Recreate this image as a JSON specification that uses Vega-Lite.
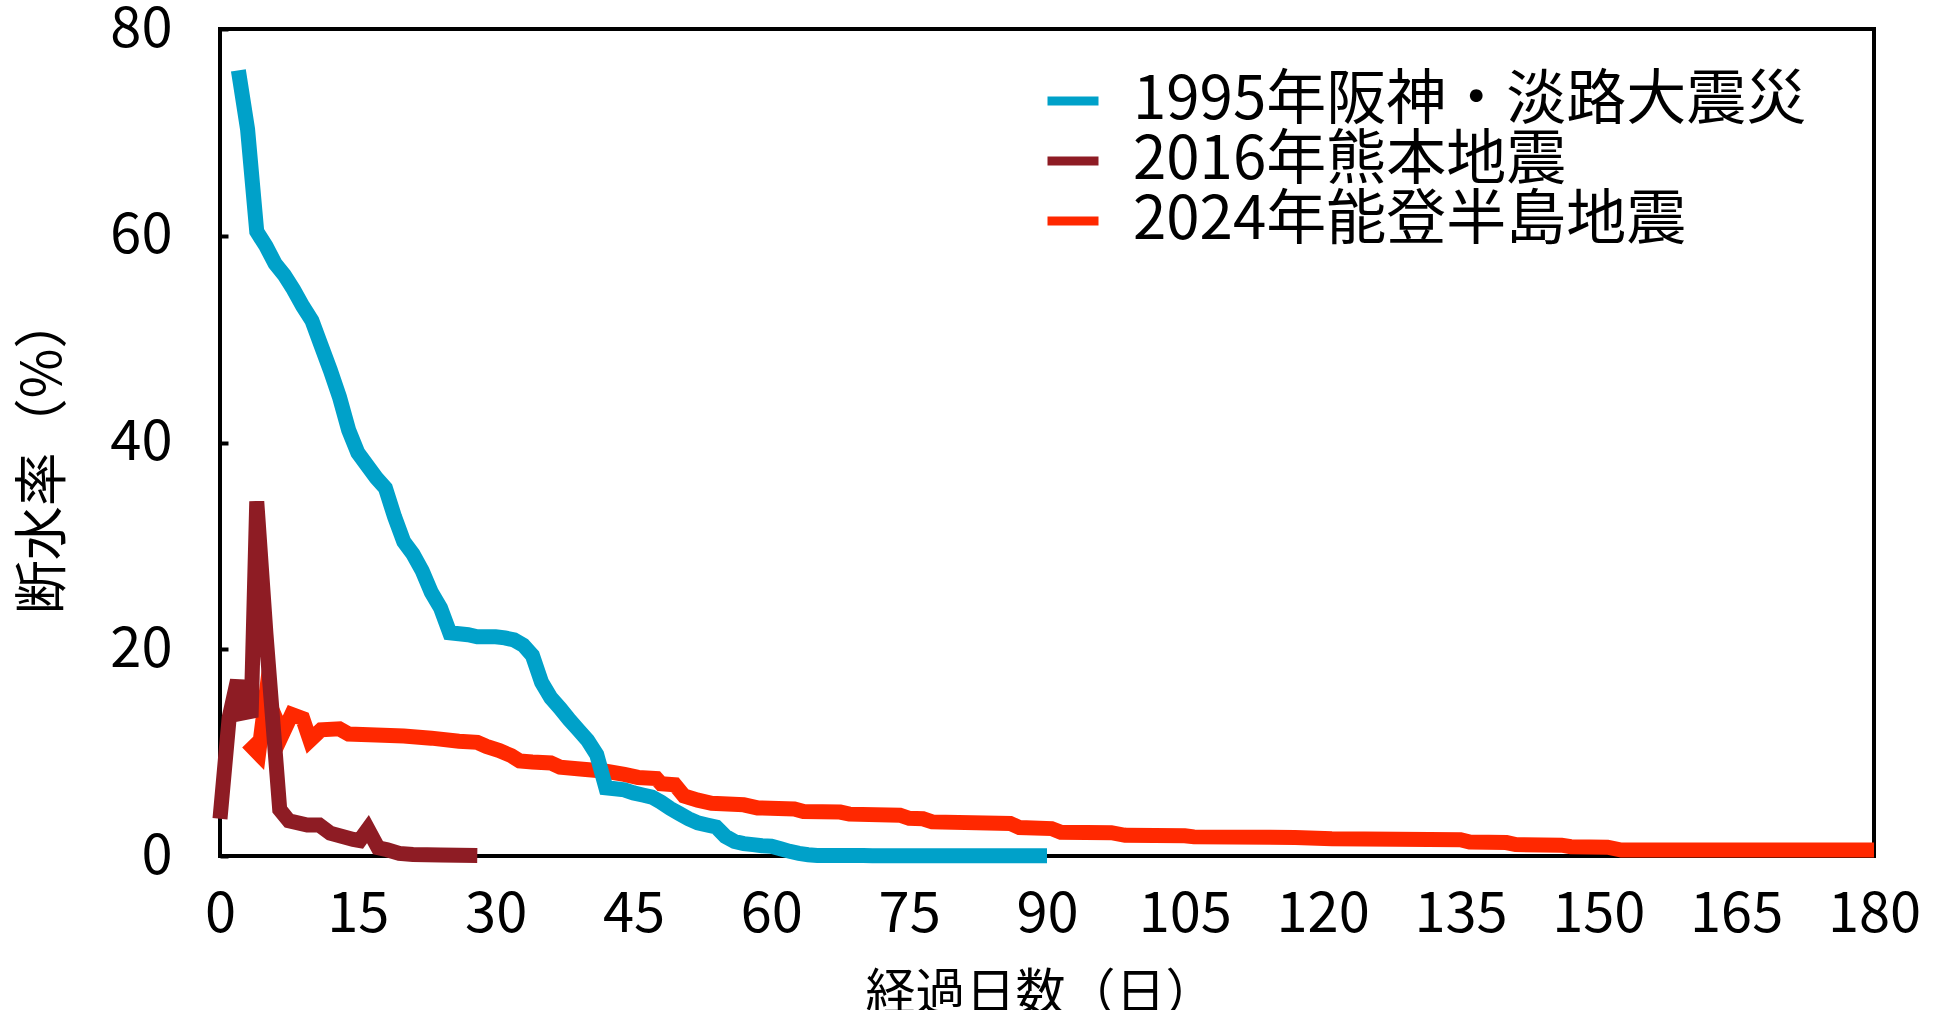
{
  "$schema": "https://vega.github.io/schema/vega-lite/v6.json",
  "width": 1654,
  "height": 827,
  "autosize": {"type": "none"},
  "padding": {"left": 220, "top": 29, "right": 72, "bottom": 154},
  "background": "white",
  "config": {
    "view": {"stroke": "black", "strokeWidth": 4},
    "font": "Noto Sans CJK JP",
    "axis": {
      "labelFont": "Noto Sans CJK JP",
      "labelFontSize": 56,
      "labelColor": "black",
      "titleFont": "Noto Sans CJK JP",
      "titleFontSize": 46,
      "titleFontWeight": "normal",
      "titleColor": "black",
      "grid": false,
      "domain": false
    },
    "legend": {
      "labelFont": "Noto Sans CJK JP",
      "labelFontSize": 60,
      "labelColor": "black",
      "labelLimit": 0
    }
  },
  "data": {
    "values": [
      {"event": "1995年阪神・淡路大震災", "day": 2, "rate": 76},
      {"event": "1995年阪神・淡路大震災", "day": 3, "rate": 70.3},
      {"event": "1995年阪神・淡路大震災", "day": 4, "rate": 60.4},
      {"event": "1995年阪神・淡路大震災", "day": 5, "rate": 59},
      {"event": "1995年阪神・淡路大震災", "day": 6, "rate": 57.3},
      {"event": "1995年阪神・淡路大震災", "day": 7, "rate": 56.2},
      {"event": "1995年阪神・淡路大震災", "day": 8, "rate": 54.8},
      {"event": "1995年阪神・淡路大震災", "day": 9, "rate": 53.2},
      {"event": "1995年阪神・淡路大震災", "day": 10, "rate": 51.8},
      {"event": "1995年阪神・淡路大震災", "day": 11, "rate": 49.4},
      {"event": "1995年阪神・淡路大震災", "day": 12, "rate": 47},
      {"event": "1995年阪神・淡路大震災", "day": 13, "rate": 44.4},
      {"event": "1995年阪神・淡路大震災", "day": 14, "rate": 41.2},
      {"event": "1995年阪神・淡路大震災", "day": 15, "rate": 39},
      {"event": "1995年阪神・淡路大震災", "day": 16, "rate": 37.8},
      {"event": "1995年阪神・淡路大震災", "day": 17, "rate": 36.6},
      {"event": "1995年阪神・淡路大震災", "day": 18, "rate": 35.6},
      {"event": "1995年阪神・淡路大震災", "day": 19, "rate": 32.8},
      {"event": "1995年阪神・淡路大震災", "day": 20, "rate": 30.4},
      {"event": "1995年阪神・淡路大震災", "day": 21, "rate": 29.2},
      {"event": "1995年阪神・淡路大震災", "day": 22, "rate": 27.6},
      {"event": "1995年阪神・淡路大震災", "day": 23, "rate": 25.5},
      {"event": "1995年阪神・淡路大震災", "day": 24, "rate": 24},
      {"event": "1995年阪神・淡路大震災", "day": 25, "rate": 21.6},
      {"event": "1995年阪神・淡路大震災", "day": 26, "rate": 21.5},
      {"event": "1995年阪神・淡路大震災", "day": 27, "rate": 21.4},
      {"event": "1995年阪神・淡路大震災", "day": 28, "rate": 21.2},
      {"event": "1995年阪神・淡路大震災", "day": 29, "rate": 21.2},
      {"event": "1995年阪神・淡路大震災", "day": 30, "rate": 21.2},
      {"event": "1995年阪神・淡路大震災", "day": 31, "rate": 21.1},
      {"event": "1995年阪神・淡路大震災", "day": 32, "rate": 20.9},
      {"event": "1995年阪神・淡路大震災", "day": 33, "rate": 20.4},
      {"event": "1995年阪神・淡路大震災", "day": 34, "rate": 19.4},
      {"event": "1995年阪神・淡路大震災", "day": 35, "rate": 16.8},
      {"event": "1995年阪神・淡路大震災", "day": 36, "rate": 15.3},
      {"event": "1995年阪神・淡路大震災", "day": 37, "rate": 14.3},
      {"event": "1995年阪神・淡路大震災", "day": 38, "rate": 13.2},
      {"event": "1995年阪神・淡路大震災", "day": 39, "rate": 12.2},
      {"event": "1995年阪神・淡路大震災", "day": 40, "rate": 11.2},
      {"event": "1995年阪神・淡路大震災", "day": 41, "rate": 9.8},
      {"event": "1995年阪神・淡路大震災", "day": 42, "rate": 6.6},
      {"event": "1995年阪神・淡路大震災", "day": 43, "rate": 6.5},
      {"event": "1995年阪神・淡路大震災", "day": 44, "rate": 6.4},
      {"event": "1995年阪神・淡路大震災", "day": 45, "rate": 6.1},
      {"event": "1995年阪神・淡路大震災", "day": 46, "rate": 5.9},
      {"event": "1995年阪神・淡路大震災", "day": 47, "rate": 5.7},
      {"event": "1995年阪神・淡路大震災", "day": 48, "rate": 5.2},
      {"event": "1995年阪神・淡路大震災", "day": 49, "rate": 4.6},
      {"event": "1995年阪神・淡路大震災", "day": 50, "rate": 4.1},
      {"event": "1995年阪神・淡路大震災", "day": 51, "rate": 3.6},
      {"event": "1995年阪神・淡路大震災", "day": 52, "rate": 3.2},
      {"event": "1995年阪神・淡路大震災", "day": 53, "rate": 3.0},
      {"event": "1995年阪神・淡路大震災", "day": 54, "rate": 2.8},
      {"event": "1995年阪神・淡路大震災", "day": 55, "rate": 1.9},
      {"event": "1995年阪神・淡路大震災", "day": 56, "rate": 1.4},
      {"event": "1995年阪神・淡路大震災", "day": 57, "rate": 1.2},
      {"event": "1995年阪神・淡路大震災", "day": 58, "rate": 1.1},
      {"event": "1995年阪神・淡路大震災", "day": 59, "rate": 1.0},
      {"event": "1995年阪神・淡路大震災", "day": 60, "rate": 0.95},
      {"event": "1995年阪神・淡路大震災", "day": 61, "rate": 0.7},
      {"event": "1995年阪神・淡路大震災", "day": 62, "rate": 0.45},
      {"event": "1995年阪神・淡路大震災", "day": 63, "rate": 0.25},
      {"event": "1995年阪神・淡路大震災", "day": 64, "rate": 0.12},
      {"event": "1995年阪神・淡路大震災", "day": 65, "rate": 0.06},
      {"event": "1995年阪神・淡路大震災", "day": 70, "rate": 0.05},
      {"event": "1995年阪神・淡路大震災", "day": 71, "rate": 0.02},
      {"event": "1995年阪神・淡路大震災", "day": 90, "rate": 0.02},

      {"event": "2016年熊本地震", "day": 0, "rate": 3.6},
      {"event": "2016年熊本地震", "day": 1, "rate": 13.4},
      {"event": "2016年熊本地震", "day": 1.9, "rate": 17},
      {"event": "2016年熊本地震", "day": 2.3, "rate": 13.8},
      {"event": "2016年熊本地震", "day": 3.4, "rate": 14},
      {"event": "2016年熊本地震", "day": 4, "rate": 34.3},
      {"event": "2016年熊本地震", "day": 5, "rate": 21.5},
      {"event": "2016年熊本地震", "day": 6.5, "rate": 4.5},
      {"event": "2016年熊本地震", "day": 7.5, "rate": 3.4},
      {"event": "2016年熊本地震", "day": 9.5, "rate": 3.0},
      {"event": "2016年熊本地震", "day": 10.8, "rate": 3.0},
      {"event": "2016年熊本地震", "day": 12, "rate": 2.2},
      {"event": "2016年熊本地震", "day": 14.5, "rate": 1.6},
      {"event": "2016年熊本地震", "day": 15.2, "rate": 1.5},
      {"event": "2016年熊本地震", "day": 16.1, "rate": 2.6},
      {"event": "2016年熊本地震", "day": 17.2, "rate": 0.8},
      {"event": "2016年熊本地震", "day": 18.2, "rate": 0.6},
      {"event": "2016年熊本地震", "day": 19.5, "rate": 0.25},
      {"event": "2016年熊本地震", "day": 21, "rate": 0.15},
      {"event": "2016年熊本地震", "day": 24, "rate": 0.1},
      {"event": "2016年熊本地震", "day": 28, "rate": 0.05},

      {"event": "2024年能登半島地震", "day": 3, "rate": 11},
      {"event": "2024年能登半島地震", "day": 4.2, "rate": 9.9},
      {"event": "2024年能登半島地震", "day": 5, "rate": 15.5},
      {"event": "2024年能登半島地震", "day": 6.8, "rate": 11.8},
      {"event": "2024年能登半島地震", "day": 7.8, "rate": 13.7},
      {"event": "2024年能登半島地震", "day": 9, "rate": 13.3},
      {"event": "2024年能登半島地震", "day": 9.8, "rate": 11.2},
      {"event": "2024年能登半島地震", "day": 11, "rate": 12.2},
      {"event": "2024年能登半島地震", "day": 13, "rate": 12.3},
      {"event": "2024年能登半島地震", "day": 14, "rate": 11.8},
      {"event": "2024年能登半島地震", "day": 17, "rate": 11.7},
      {"event": "2024年能登半島地震", "day": 20, "rate": 11.6},
      {"event": "2024年能登半島地震", "day": 23, "rate": 11.4},
      {"event": "2024年能登半島地震", "day": 26, "rate": 11.1},
      {"event": "2024年能登半島地震", "day": 28, "rate": 11.0},
      {"event": "2024年能登半島地震", "day": 29, "rate": 10.6},
      {"event": "2024年能登半島地震", "day": 30.4, "rate": 10.2},
      {"event": "2024年能登半島地震", "day": 31.7, "rate": 9.7},
      {"event": "2024年能登半島地震", "day": 32.6, "rate": 9.2},
      {"event": "2024年能登半島地震", "day": 34, "rate": 9.1},
      {"event": "2024年能登半島地震", "day": 36, "rate": 9.0},
      {"event": "2024年能登半島地震", "day": 37, "rate": 8.6},
      {"event": "2024年能登半島地震", "day": 39.5, "rate": 8.4},
      {"event": "2024年能登半島地震", "day": 42, "rate": 8.2},
      {"event": "2024年能登半島地震", "day": 44, "rate": 7.9},
      {"event": "2024年能登半島地震", "day": 45.5, "rate": 7.6},
      {"event": "2024年能登半島地震", "day": 47.5, "rate": 7.5},
      {"event": "2024年能登半島地震", "day": 48, "rate": 7.0},
      {"event": "2024年能登半島地震", "day": 49.5, "rate": 6.9},
      {"event": "2024年能登半島地震", "day": 50.5, "rate": 5.8},
      {"event": "2024年能登半島地震", "day": 52, "rate": 5.4},
      {"event": "2024年能登半島地震", "day": 53.5, "rate": 5.1},
      {"event": "2024年能登半島地震", "day": 57, "rate": 4.95},
      {"event": "2024年能登半島地震", "day": 58.5, "rate": 4.65},
      {"event": "2024年能登半島地震", "day": 62.5, "rate": 4.55},
      {"event": "2024年能登半島地震", "day": 63.5, "rate": 4.3},
      {"event": "2024年能登半島地震", "day": 67.5, "rate": 4.25},
      {"event": "2024年能登半島地震", "day": 68.5, "rate": 4.05},
      {"event": "2024年能登半島地震", "day": 74, "rate": 3.95},
      {"event": "2024年能登半島地震", "day": 75, "rate": 3.65},
      {"event": "2024年能登半島地震", "day": 76.5, "rate": 3.6},
      {"event": "2024年能登半島地震", "day": 77.5, "rate": 3.3},
      {"event": "2024年能登半島地震", "day": 86, "rate": 3.15},
      {"event": "2024年能登半島地震", "day": 87, "rate": 2.75},
      {"event": "2024年能登半島地震", "day": 90.5, "rate": 2.65},
      {"event": "2024年能登半島地震", "day": 91.5, "rate": 2.3},
      {"event": "2024年能登半島地震", "day": 97, "rate": 2.25},
      {"event": "2024年能登半島地震", "day": 98.5, "rate": 2.0},
      {"event": "2024年能登半島地震", "day": 105, "rate": 1.95},
      {"event": "2024年能登半島地震", "day": 106, "rate": 1.85},
      {"event": "2024年能登半島地震", "day": 117, "rate": 1.8},
      {"event": "2024年能登半島地震", "day": 121, "rate": 1.68},
      {"event": "2024年能登半島地震", "day": 135, "rate": 1.58},
      {"event": "2024年能登半島地震", "day": 136, "rate": 1.35},
      {"event": "2024年能登半島地震", "day": 140, "rate": 1.3},
      {"event": "2024年能登半島地震", "day": 141, "rate": 1.1},
      {"event": "2024年能登半島地震", "day": 146, "rate": 1.05},
      {"event": "2024年能登半島地震", "day": 147, "rate": 0.9},
      {"event": "2024年能登半島地震", "day": 151, "rate": 0.85},
      {"event": "2024年能登半島地震", "day": 152.5, "rate": 0.58},
      {"event": "2024年能登半島地震", "day": 180, "rate": 0.58}
    ]
  },
  "encoding": {
    "x": {
      "field": "day", "type": "quantitative",
      "scale": {"domain": [0, 180], "nice": false},
      "axis": {
        "values": [0, 15, 30, 45, 60, 75, 90, 105, 120, 135, 150, 165, 180],
        "ticks": false, "labelPadding": 31, "labelFlush": false,
        "title": "経過日数（日）", "titleBaseline": "middle", "titleY": 138, "titleX": 820,
        "titleFontSize": 50
      }
    },
    "y": {
      "field": "rate", "type": "quantitative",
      "scale": {"domain": [0, 80], "nice": false},
      "axis": {
        "values": [0, 20, 40, 60, 80],
        "ticks": true, "tickSize": -8, "tickWidth": 4, "tickColor": "black",
        "labelPadding": 56, "labelFlush": false,
        "title": "断水率（%）", "titleAngle": -90, "titleAlign": "center", "titleBaseline": "middle",
        "titleX": -176, "titleY": 425, "titleFontSize": 54
      }
    },
    "color": {
      "field": "event", "type": "nominal",
      "scale": {
        "domain": ["1995年阪神・淡路大震災", "2016年熊本地震", "2024年能登半島地震"],
        "range": ["#00A1C9", "#8E1C24", "#FF2800"]
      },
      "legend": {
        "title": null, "orient": "none", "legendX": 823, "legendY": 42,
        "symbolType": "stroke", "symbolSize": 2601, "symbolStrokeWidth": 9,
        "labelOffset": 30, "rowPadding": -2, "padding": 0, "labelLimit": 0
      }
    }
  },
  "layer": [
    {"transform": [{"filter": "datum.event === '2024年能登半島地震'"}], "mark": {"type": "line", "strokeWidth": 15, "strokeMiterLimit": 4}},
    {"transform": [{"filter": "datum.event === '1995年阪神・淡路大震災'"}], "mark": {"type": "line", "strokeWidth": 15, "strokeMiterLimit": 4}},
    {"transform": [{"filter": "datum.event === '2016年熊本地震'"}], "mark": {"type": "line", "strokeWidth": 15, "strokeMiterLimit": 4}}
  ]
}
